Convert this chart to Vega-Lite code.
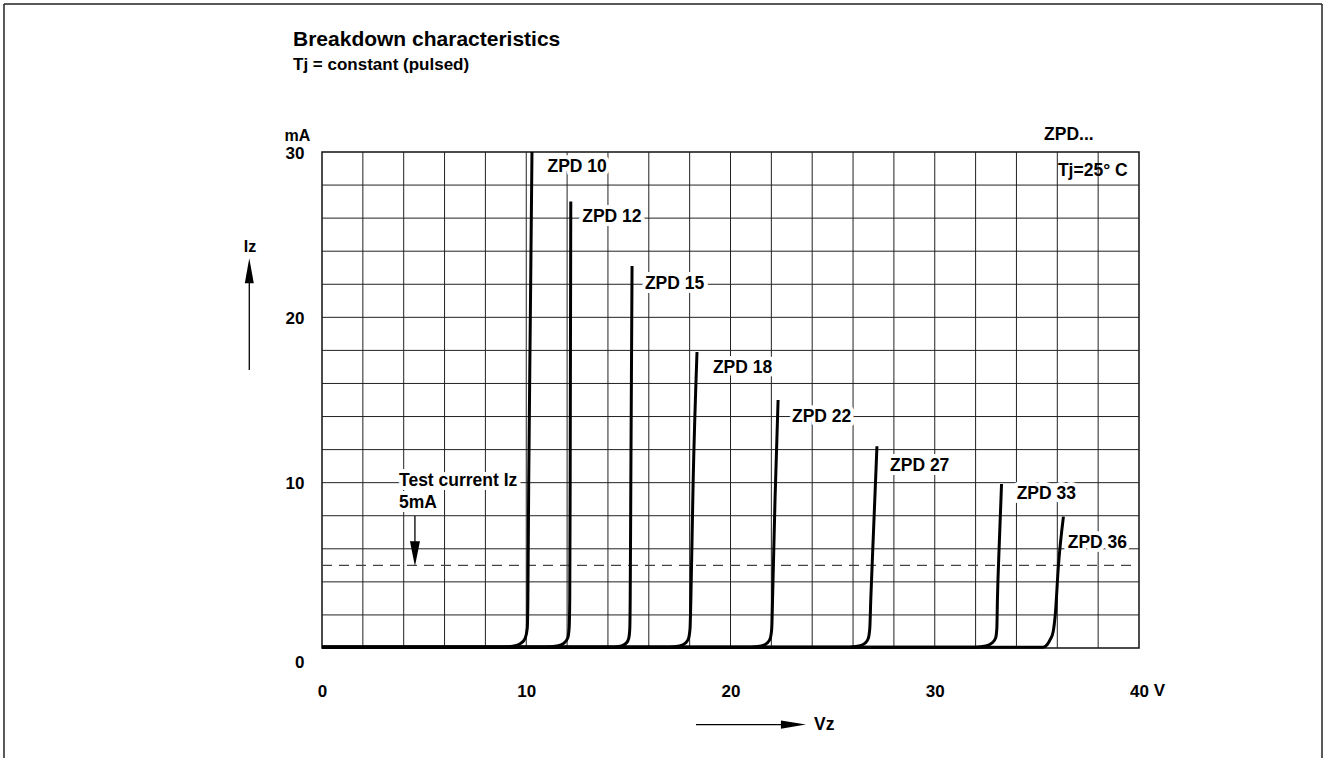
{
  "$schema": "https://vega.github.io/schema/vega-lite/v6.json",
  "width": 817,
  "height": 496,
  "autosize": {"type": "none"},
  "padding": {"left": 322, "top": 152, "right": 185, "bottom": 110},
  "background": "white",
  "title": {
    "text": "Breakdown characteristics",
    "subtitle": "Tj = constant (pulsed)",
    "anchor": "start",
    "frame": "group",
    "dx": -29,
    "offset": -70,
    "font": "Liberation Sans",
    "fontSize": 21,
    "fontWeight": "bold",
    "color": "black",
    "subtitleFont": "Liberation Sans",
    "subtitleFontSize": 17,
    "subtitleFontWeight": "bold",
    "subtitleColor": "black",
    "subtitlePadding": 7
  },
  "config": {
    "view": {"stroke": "#111", "strokeWidth": 1.5},
    "font": "Liberation Sans"
  },
  "datasets": {
    "vgrid": [{"v": 2}, {"v": 4}, {"v": 6}, {"v": 8}, {"v": 10}, {"v": 12}, {"v": 14}, {"v": 16}, {"v": 18}, {"v": 20}, {"v": 22}, {"v": 24}, {"v": 26}, {"v": 28}, {"v": 30}, {"v": 32}, {"v": 34}, {"v": 36}, {"v": 38}],
    "hgrid": [{"i": 2}, {"i": 4}, {"i": 6}, {"i": 8}, {"i": 10}, {"i": 12}, {"i": 14}, {"i": 16}, {"i": 18}, {"i": 20}, {"i": 22}, {"i": 24}, {"i": 26}, {"i": 28}],
    "curves": [
      {"series": "ZPD 10", "v": 0, "i": 0.05}, {"series": "ZPD 10", "v": 8.9, "i": 0.05}, {"series": "ZPD 10", "v": 9.4, "i": 0.12}, {"series": "ZPD 10", "v": 9.75, "i": 0.3}, {"series": "ZPD 10", "v": 9.95, "i": 0.6}, {"series": "ZPD 10", "v": 10.05, "i": 1.2}, {"series": "ZPD 10", "v": 10.08, "i": 3}, {"series": "ZPD 10", "v": 10.12, "i": 10}, {"series": "ZPD 10", "v": 10.2, "i": 20}, {"series": "ZPD 10", "v": 10.28, "i": 30},
      {"series": "ZPD 12", "v": 0, "i": 0.05}, {"series": "ZPD 12", "v": 11.0, "i": 0.05}, {"series": "ZPD 12", "v": 11.5, "i": 0.12}, {"series": "ZPD 12", "v": 11.85, "i": 0.3}, {"series": "ZPD 12", "v": 12.03, "i": 0.6}, {"series": "ZPD 12", "v": 12.1, "i": 1.2}, {"series": "ZPD 12", "v": 12.13, "i": 3}, {"series": "ZPD 12", "v": 12.15, "i": 10}, {"series": "ZPD 12", "v": 12.18, "i": 27},
      {"series": "ZPD 15", "v": 0, "i": 0.05}, {"series": "ZPD 15", "v": 14.3, "i": 0.05}, {"series": "ZPD 15", "v": 14.65, "i": 0.12}, {"series": "ZPD 15", "v": 14.9, "i": 0.3}, {"series": "ZPD 15", "v": 15.02, "i": 0.6}, {"series": "ZPD 15", "v": 15.07, "i": 1.2}, {"series": "ZPD 15", "v": 15.09, "i": 3}, {"series": "ZPD 15", "v": 15.12, "i": 10}, {"series": "ZPD 15", "v": 15.18, "i": 23.1},
      {"series": "ZPD 18", "v": 0, "i": 0.05}, {"series": "ZPD 18", "v": 17.0, "i": 0.05}, {"series": "ZPD 18", "v": 17.5, "i": 0.12}, {"series": "ZPD 18", "v": 17.8, "i": 0.3}, {"series": "ZPD 18", "v": 17.95, "i": 0.6}, {"series": "ZPD 18", "v": 18.02, "i": 1.2}, {"series": "ZPD 18", "v": 18.06, "i": 3}, {"series": "ZPD 18", "v": 18.17, "i": 10}, {"series": "ZPD 18", "v": 18.36, "i": 17.9},
      {"series": "ZPD 22", "v": 0, "i": 0.05}, {"series": "ZPD 22", "v": 21.0, "i": 0.05}, {"series": "ZPD 22", "v": 21.5, "i": 0.12}, {"series": "ZPD 22", "v": 21.8, "i": 0.3}, {"series": "ZPD 22", "v": 21.95, "i": 0.6}, {"series": "ZPD 22", "v": 22.02, "i": 1.2}, {"series": "ZPD 22", "v": 22.06, "i": 3}, {"series": "ZPD 22", "v": 22.18, "i": 9}, {"series": "ZPD 22", "v": 22.33, "i": 15},
      {"series": "ZPD 27", "v": 0, "i": 0.05}, {"series": "ZPD 27", "v": 25.8, "i": 0.05}, {"series": "ZPD 27", "v": 26.3, "i": 0.12}, {"series": "ZPD 27", "v": 26.6, "i": 0.3}, {"series": "ZPD 27", "v": 26.75, "i": 0.6}, {"series": "ZPD 27", "v": 26.82, "i": 1.2}, {"series": "ZPD 27", "v": 26.87, "i": 3}, {"series": "ZPD 27", "v": 27.0, "i": 7}, {"series": "ZPD 27", "v": 27.17, "i": 12.2},
      {"series": "ZPD 33", "v": 0, "i": 0.05}, {"series": "ZPD 33", "v": 32.0, "i": 0.05}, {"series": "ZPD 33", "v": 32.5, "i": 0.12}, {"series": "ZPD 33", "v": 32.8, "i": 0.3}, {"series": "ZPD 33", "v": 32.98, "i": 0.6}, {"series": "ZPD 33", "v": 33.04, "i": 1.2}, {"series": "ZPD 33", "v": 33.07, "i": 3}, {"series": "ZPD 33", "v": 33.15, "i": 6}, {"series": "ZPD 33", "v": 33.27, "i": 9.92},
      {"series": "ZPD 36", "v": 0, "i": 0.05}, {"series": "ZPD 36", "v": 35.3, "i": 0.05}, {"series": "ZPD 36", "v": 35.5, "i": 0.2}, {"series": "ZPD 36", "v": 35.65, "i": 0.5}, {"series": "ZPD 36", "v": 35.8, "i": 1.0}, {"series": "ZPD 36", "v": 35.9, "i": 2.0}, {"series": "ZPD 36", "v": 36.05, "i": 4.9}, {"series": "ZPD 36", "v": 36.3, "i": 7.95}
    ],
    "labels": [
      {"label": "ZPD 10", "v": 11.04, "i": 29.1},
      {"label": "ZPD 12", "v": 12.74, "i": 26.05},
      {"label": "ZPD 15", "v": 15.81, "i": 22.02},
      {"label": "ZPD 18", "v": 19.14, "i": 16.94},
      {"label": "ZPD 22", "v": 23.01, "i": 13.97},
      {"label": "ZPD 27", "v": 27.81, "i": 11.01},
      {"label": "ZPD 33", "v": 34.01, "i": 9.3},
      {"label": "ZPD 36", "v": 36.51, "i": 6.37},
      {"label": "Test current Iz", "v": 3.77, "i": 10.13},
      {"label": "5mA", "v": 3.77, "i": 8.8}
    ],
    "notes": [
      {"label": "ZPD...", "v": 35.35, "i": 31.03},
      {"label": "Tj=25° C", "v": 36.03, "i": 28.85},
      {"label": "Vz", "v": 24.09, "i": -4.63}
    ],
    "testline": [{"v": 0, "v2": 40, "i": 5, "i2": 5}],
    "arrowshafts": [
      {"v": 4.55, "v2": 4.55, "i": 7.98, "i2": 5.7},
      {"v": -3.56, "v2": -3.56, "i": 16.81, "i2": 22.81},
      {"v": 18.31, "v2": 23.08, "i": -4.63, "i2": -4.63}
    ],
    "heads": [
      {"dir": "down", "v": 4.55, "i": 5.7},
      {"dir": "up", "v": -3.56, "i": 22.81},
      {"dir": "right", "v": 23.08, "i": -4.63}
    ],
    "frame": [
      {"v": -15.57, "v2": 48.96, "i": 38.95, "i2": 38.95},
      {"v": -15.57, "v2": -15.57, "i": 38.95, "i2": -7},
      {"v": 48.96, "v2": 48.96, "i": 38.95, "i2": -7}
    ]
  },
  "layer": [
    {
      "data": {"name": "vgrid"},
      "mark": {"type": "rule", "color": "#222", "strokeWidth": 1},
      "encoding": {
        "x": {
          "field": "v", "type": "quantitative",
          "scale": {"domain": [0, 40], "nice": false, "zero": false},
          "axis": {
            "values": [0, 10, 20, 30, 40],
            "grid": false, "ticks": false, "domain": false,
            "labelFont": "Liberation Sans", "labelFontSize": 17, "labelFontWeight": "bold", "labelColor": "black",
            "labelPadding": 35, "labelFlush": false, "labelOverlap": false,
            "title": "V", "titleX": 837, "titleY": 42, "titleAlign": "center", "titleBaseline": "middle", "titleAngle": 0,
            "titleFont": "Liberation Sans", "titleFontSize": 17, "titleFontWeight": "bold", "titleColor": "black"
          }
        }
      }
    },
    {
      "data": {"name": "hgrid"},
      "mark": {"type": "rule", "color": "#222", "strokeWidth": 1},
      "encoding": {
        "y": {
          "field": "i", "type": "quantitative",
          "scale": {"domain": [0, 30], "nice": false, "zero": false},
          "axis": {
            "values": [0, 10, 20, 30],
            "grid": false, "ticks": false, "domain": false,
            "labelFont": "Liberation Sans", "labelFontSize": 17, "labelFontWeight": "bold", "labelColor": "black",
            "labelPadding": 18, "labelFlush": false, "labelOverlap": false,
            "labelOffset": {"condition": {"test": "datum.value === 0", "value": 14}, "value": 1},
            "title": "mA", "titleX": -25, "titleY": -17, "titleAlign": "center", "titleBaseline": "middle", "titleAngle": 0,
            "titleFont": "Liberation Sans", "titleFontSize": 16, "titleFontWeight": "bold", "titleColor": "black"
          }
        }
      }
    },
    {
      "data": {"name": "labels"},
      "mark": {"type": "text", "align": "left", "baseline": "middle", "font": "Liberation Sans", "fontSize": 17.5, "fontWeight": "bold", "stroke": "white", "strokeWidth": 8, "strokeJoin": "round", "fill": "white"},
      "encoding": {
        "x": {"field": "v", "type": "quantitative"},
        "y": {"field": "i", "type": "quantitative"},
        "text": {"field": "label"}
      }
    },
    {
      "data": {"name": "frame"},
      "mark": {"type": "rule", "color": "#222", "strokeWidth": 1.5},
      "encoding": {
        "x": {"field": "v", "type": "quantitative"},
        "x2": {"field": "v2"},
        "y": {"field": "i", "type": "quantitative"},
        "y2": {"field": "i2"}
      }
    },
    {
      "data": {"name": "testline"},
      "mark": {"type": "rule", "color": "#444", "strokeWidth": 1.3, "strokeDash": [10, 7]},
      "encoding": {
        "x": {"field": "v", "type": "quantitative"},
        "x2": {"field": "v2"},
        "y": {"field": "i", "type": "quantitative"},
        "y2": {"field": "i2"}
      }
    },
    {
      "data": {"name": "curves"},
      "mark": {"type": "line", "color": "black", "strokeWidth": 3, "interpolate": "monotone"},
      "encoding": {
        "x": {"field": "v", "type": "quantitative"},
        "y": {"field": "i", "type": "quantitative"},
        "detail": {"field": "series"}
      }
    },
    {
      "data": {"name": "arrowshafts"},
      "mark": {"type": "rule", "color": "black", "strokeWidth": 1.3},
      "encoding": {
        "x": {"field": "v", "type": "quantitative"},
        "x2": {"field": "v2"},
        "y": {"field": "i", "type": "quantitative"},
        "y2": {"field": "i2"}
      }
    },
    {
      "data": {"name": "heads"},
      "mark": {"type": "point", "filled": true, "color": "black", "opacity": 1, "size": 625},
      "encoding": {
        "x": {"field": "v", "type": "quantitative"},
        "y": {"field": "i", "type": "quantitative"},
        "shape": {
          "field": "dir", "type": "nominal",
          "scale": {"domain": ["down", "up", "right"], "range": ["M-0.4,-1L0.4,-1L0,1Z", "M-0.36,1L0.36,1L0,-1Z", "M-1,-0.33L-1,0.33L1,0Z"]},
          "legend": null
        }
      }
    },
    {
      "data": {"name": "labels"},
      "mark": {"type": "text", "align": "left", "baseline": "middle", "font": "Liberation Sans", "fontSize": 17.5, "fontWeight": "bold", "color": "black"},
      "encoding": {
        "x": {"field": "v", "type": "quantitative"},
        "y": {"field": "i", "type": "quantitative"},
        "text": {"field": "label"}
      }
    },
    {
      "data": {"name": "notes"},
      "mark": {"type": "text", "align": "left", "baseline": "middle", "font": "Liberation Sans", "fontSize": 17.5, "fontWeight": "bold", "color": "black"},
      "encoding": {
        "x": {"field": "v", "type": "quantitative"},
        "y": {"field": "i", "type": "quantitative"},
        "text": {"field": "label"}
      }
    },
    {
      "data": {"values": [{"label": "Iz", "v": -3.53, "i": 24.26}]},
      "mark": {"type": "text", "align": "center", "baseline": "middle", "font": "Liberation Sans", "fontSize": 16, "fontWeight": "bold", "color": "black"},
      "encoding": {
        "x": {"field": "v", "type": "quantitative"},
        "y": {"field": "i", "type": "quantitative"},
        "text": {"field": "label"}
      }
    }
  ]
}
